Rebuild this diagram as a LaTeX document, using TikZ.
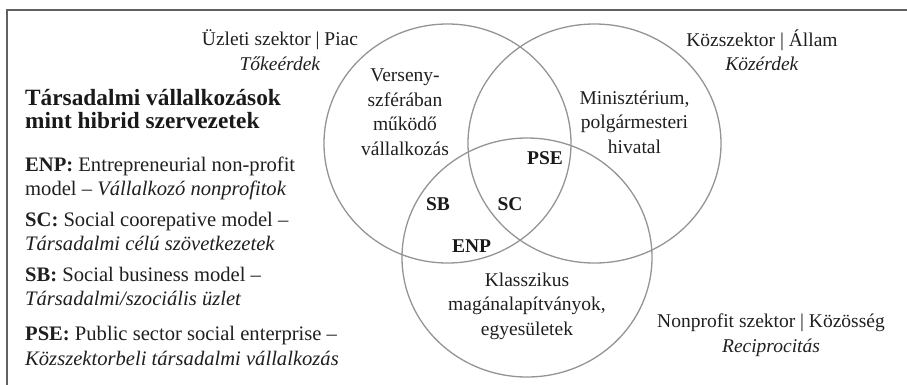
\documentclass[tikz,border=0pt]{standalone}
\usepackage{fontspec}
\setmainfont{Liberation Serif}
\begin{document}
\begin{tikzpicture}[x=1pt,y=-1pt,
  txt/.style={inner sep=0pt, text=black!88, font=\fontsize{19.5}{24.5}\selectfont},
  leg/.style={inner sep=0pt, text=black!88, font=\fontsize{20.6}{24.5}\selectfont},
  ttl/.style={inner sep=0pt, text=black!90, font=\fontsize{23.3}{23}\selectfont\bfseries},
  lbl/.style={txt, align=center},
  ab/.style={inner sep=0pt, text=black!90, font=\fontsize{19.5}{24}\selectfont\bfseries},
  venn/.style={draw=black!42, line width=1.3pt},
  frame/.style={draw=black!62, line width=1.8pt}]
\useasboundingbox (0,0) rectangle (907,384);
% frame
\coordinate (fr1) at (912,10);
\coordinate (fr2) at (7,10);
\coordinate (fr3) at (7,390);
\draw[frame] (fr1) -- (fr2) -- (fr3);
% circles
\draw[venn] (447.5,143.5) ellipse [x radius=123.5, y radius=119.5];
\draw[venn] (594.5,143.5) ellipse [x radius=126.5, y radius=119.5];
\draw[venn] (527,257.5) ellipse [x radius=125, y radius=119.5];
% sector labels
\node[lbl] (biz) at (280,50) {Üzleti szektor | Piac\\\textit{Tőkeérdek}};
\node[lbl] (pub) at (762,50) {Közszektor | Állam\\\textit{Közérdek}};
\node[lbl] (np) at (771,335) {Nonprofit szektor | Közösség\\\textit{Reciprocitás}};
% circle contents
\node[lbl] (vs) at (405,112) {Verseny-\\szférában\\működő\\vállalkozás};
\node[lbl] (mi) at (634.5,122) {Minisztérium,\\polgármesteri\\hivatal};
\node[lbl] (kl) at (527,306) {Klasszikus\\magánalapítványok,\\egyesületek};
\node[ab] (pse) at (545,158) {PSE};
\node[ab] (sb) at (438,204) {SB};
\node[ab] (sc) at (510,204) {SC};
\node[ab] (enp) at (471.5,246) {ENP};
% title and legend
\node[ttl, anchor=base west] (t1) at (25,105) {Társadalmi vállalkozások};
\node[ttl, anchor=base west] (t2) at (25,128) {mint hibrid szervezetek};
\node[leg, anchor=base west] (l1) at (25,171) {\textbf{ENP:} Entrepreneurial non-profit};
\node[leg, anchor=base west] (l2) at (25,195) {model – \textit{Vállalkozó nonprofitok}};
\node[leg, anchor=base west] (l3) at (25,226) {\textbf{SC:} Social coorepative model –};
\node[leg, anchor=base west] (l4) at (25,250) {\textit{Társadalmi célú szövetkezetek}};
\node[leg, anchor=base west] (l5) at (25,281) {\textbf{SB:} Social business model –};
\node[leg, anchor=base west] (l6) at (25,305) {\textit{Társadalmi/szociális üzlet}};
\node[leg, anchor=base west] (l7) at (25,340) {\textbf{PSE:} Public sector social enterprise –};
\node[leg, anchor=base west] (l8) at (25,365) {\textit{Közszektorbeli társadalmi vállalkozás}};
\end{tikzpicture}
\end{document}
